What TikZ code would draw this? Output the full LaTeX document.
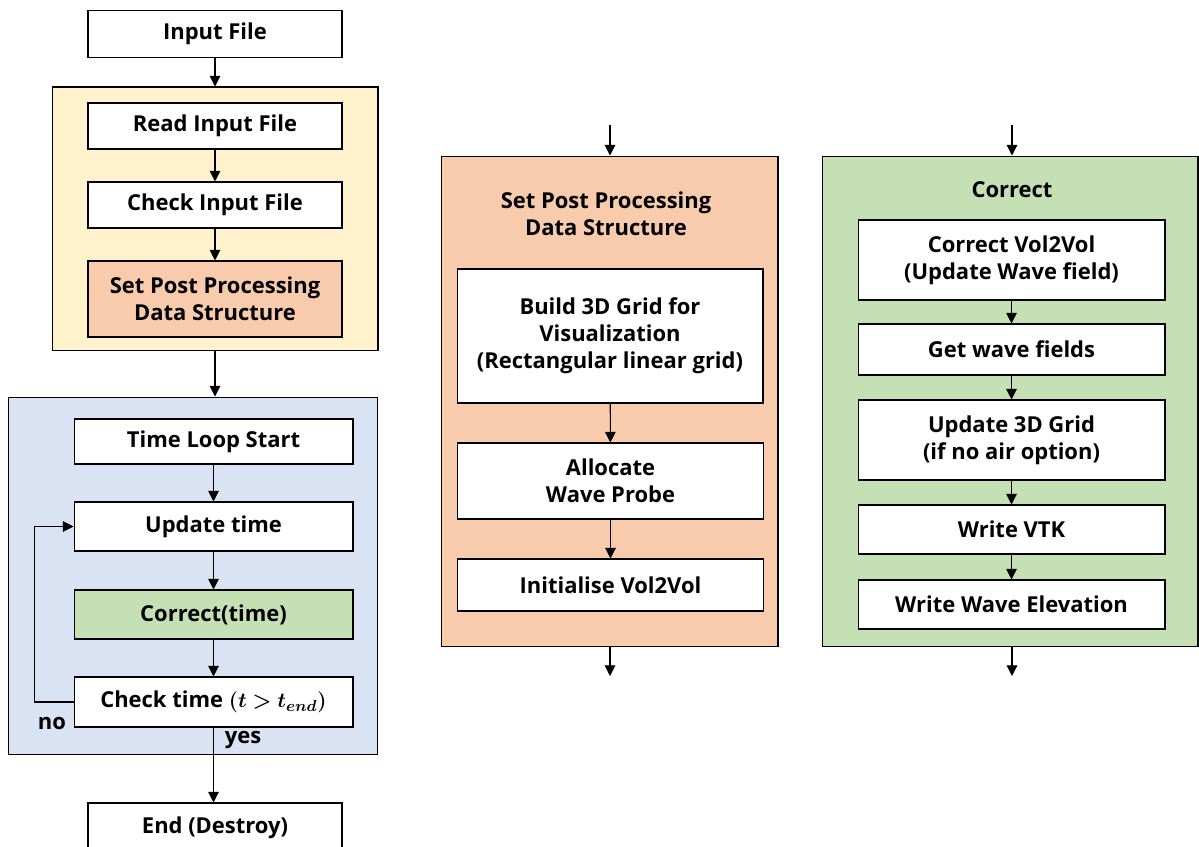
\documentclass[tikz,border=0pt]{standalone}
\usepackage[no-math]{fontspec}
\setmainfont{Open Sans}
\usepackage{amsmath}
\usepackage{bm}
\usetikzlibrary{arrows.meta}

\definecolor{inyellow}{HTML}{FFF2CC}
\definecolor{pporange}{HTML}{F8CBAD}
\definecolor{loopblue}{HTML}{DAE3F3}
\definecolor{corrgreen}{HTML}{C5E0B4}

\begin{document}
\begin{tikzpicture}[x=0.02cm,y=-0.02cm,->,>={Triangle[length=6pt,width=6pt]},line width=0.6pt,
    font=\bfseries\fontsize{12.5}{15.5}\selectfont]
    \tikzstyle{box}=[rectangle,draw=black,fill=white,align=center,inner sep=0pt,minimum height=0.94cm]
    \tikzstyle{left box}=[box,minimum width=5.08cm]
    \tikzstyle{loop box}=[box,minimum width=5.58cm]
    \tikzstyle{mid box}=[box,minimum width=6.12cm]
    \tikzstyle{right box}=[box,minimum width=6.14cm]
    \tikzstyle{group}=[rectangle,draw=black,inner sep=0pt]
    \tikzstyle{annot}=[align=center]

    \useasboundingbox (0,0) rectangle (1199,847);

    % Draw the group frames
    \node[group,fill=inyellow,minimum width=6.52cm,minimum height=5.28cm] (G-0) at (215,219) {};
    \node[group,fill=loopblue,minimum width=7.4cm,minimum height=7.16cm] (G-1) at (193,576) {};
    \node[group,fill=pporange,minimum width=6.74cm,minimum height=9.82cm] (G-2) at (609.5,401.5) {};
    \node[group,fill=corrgreen,minimum width=7.52cm,minimum height=9.82cm] (G-3) at (1010,401.5) {};

    % Draw the main flow
    \node[left box] (in) at (215,34) {Input File};
    \node[left box,minimum height=0.92cm] (L-1) at (215,126) {Read Input File};
    \node[left box,minimum height=0.92cm] (L-2) at (215,205) {Check Input File};
    \node[left box,fill=pporange,minimum height=1.52cm] (L-3) at (215,299) {Set Post Processing\\Data Structure};

    % Draw the time loop
    \node[loop box,minimum height=0.9cm] (T-1) at (213.5,441.5) {Time Loop Start};
    \node[loop box,minimum height=0.98cm] (T-2) at (213.5,526.5) {Update time};
    \node[loop box,fill=corrgreen,minimum height=0.98cm] (T-3) at (213.5,614.5) {Correct(time)};
    \node[loop box,minimum height=1cm] (T-4) at (213.5,702) {Check time $\bm{(t > t_{end})}$};
    \node[annot] (no) at (52,723) {no};
    \node[annot] (yes) at (243,740) {yes};
    \node[left box,minimum height=1cm] (fin) at (215,828) {End (Destroy)};

    % Draw the post processing set up
    \node[annot] (M-0) at (606,214) {Set Post Processing\\Data Structure};
    \node[mid box,minimum height=2.68cm] (M-1) at (610,336) {Build 3D Grid for\\Visualization\\(Rectangular linear grid)};
    \node[mid box,minimum height=1.52cm] (M-2) at (610.5,481) {Allocate\\Wave Probe};
    \node[mid box,minimum height=1.04cm] (M-3) at (610.5,585) {Initialise Vol2Vol};
    \coordinate (M-in) at (610,125);
    \coordinate (M-out) at (610,676);

    % Draw the correct step
    \node[annot] (R-0) at (1012,190) {Correct};
    \node[right box,minimum height=1.6cm] (R-1) at (1011.5,260) {Correct Vol2Vol\\(Update Wave field)};
    \node[right box,minimum height=1.02cm] (R-2) at (1011.5,349.5) {Get wave fields};
    \node[right box,minimum height=1.6cm] (R-3) at (1011.5,440) {Update 3D Grid\\(if no air option)};
    \node[right box,minimum height=0.98cm] (R-4) at (1011.5,529.5) {Write VTK};
    \node[right box,minimum height=0.98cm] (R-5) at (1011.5,604.5) {Write Wave Elevation};
    \coordinate (R-in) at (1012,125);
    \coordinate (R-out) at (1012,676);

    % Connect the boxes
    \draw (in) -- (G-0);
    \foreach \source/\dest in {L-1/L-2,L-2/L-3,T-1/T-2,T-2/T-3,T-3/T-4,M-1/M-2,M-2/M-3,R-1/R-2,R-2/R-3,R-3/R-4,R-4/R-5}
        \draw (\source) -- (\dest);
    \draw (G-0.south) -- (G-0.south |- G-1.north);
    \draw (T-4.west) -- ++(-39,0) |- (T-2.west);
    \draw (T-4) -- (T-4 |- fin.north);
    \draw (M-in) -- (M-in |- G-2.north);
    \draw (M-in |- G-2.south) -- (M-out);
    \draw (R-in) -- (R-in |- G-3.north);
    \draw (R-in |- G-3.south) -- (R-out);
\end{tikzpicture}
\end{document}
